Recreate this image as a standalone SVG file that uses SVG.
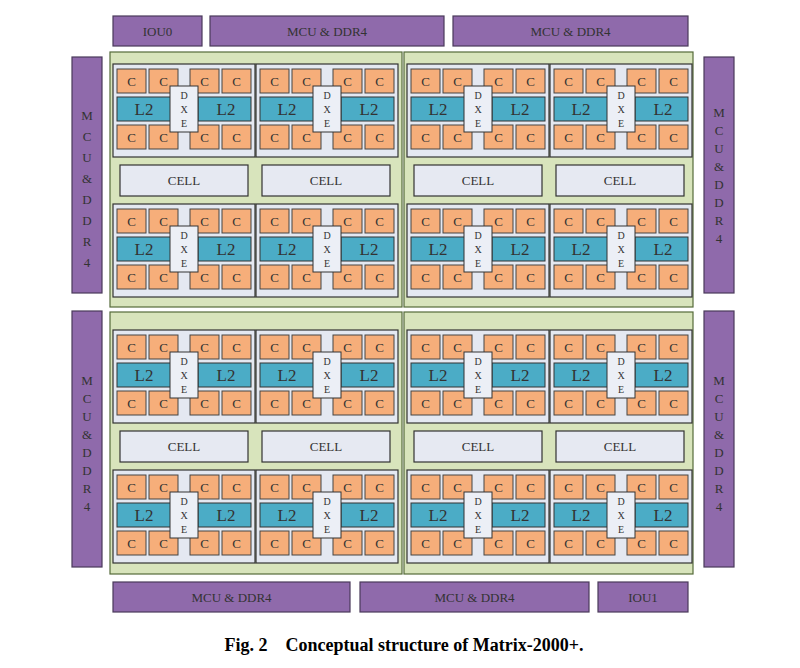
<svg xmlns="http://www.w3.org/2000/svg" xmlns:xlink="http://www.w3.org/1999/xlink" width="800" height="668" viewBox="0 0 800 668">
<style>
text{font-family:"Liberation Serif",serif;text-anchor:middle;dominant-baseline:central;fill:#333}
.io{fill:#8f6aab;stroke:#4a3a5a;stroke-width:1.2}
.q{fill:#d8e4bc;stroke:#556b3a;stroke-width:1.2}
.p{fill:#e4e8f1;stroke:#333;stroke-width:1.2}
.c{fill:#f6ae7a;stroke:#444;stroke-width:1}
.l{fill:#4bacc6;stroke:#333;stroke-width:1}
.d{fill:#eceff6;stroke:#333;stroke-width:1}
.cell{fill:#e6e9f2;stroke:#333;stroke-width:1.2}
.s{font-size:13px}
.t{font-size:17px}
.v{font-size:10px}
</style>
<defs>
<g id="blk">
<rect class="p" x="0" y="0" width="142" height="93"/>
<rect class="c" x="4" y="5" width="29" height="24"/><rect class="c" x="36" y="5" width="29" height="24"/>
<rect class="c" x="77" y="5" width="29" height="24"/><rect class="c" x="109" y="5" width="29" height="24"/>
<rect class="c" x="4" y="61" width="29" height="24"/><rect class="c" x="36" y="61" width="29" height="24"/>
<rect class="c" x="77" y="61" width="29" height="24"/><rect class="c" x="109" y="61" width="29" height="24"/>
<rect class="l" x="4" y="33" width="63" height="24"/><rect class="l" x="85" y="33" width="53" height="24"/>
<rect class="d" x="57" y="22" width="28" height="46"/>
<text class="s" x="18.5" y="17">C</text><text class="s" x="50.5" y="17">C</text><text class="s" x="91.5" y="17">C</text><text class="s" x="123.5" y="17">C</text>
<text class="s" x="18.5" y="73">C</text><text class="s" x="50.5" y="73">C</text><text class="s" x="91.5" y="73">C</text><text class="s" x="123.5" y="73">C</text>
<text class="t" x="31" y="45">L2</text><text class="t" x="113" y="45">L2</text>
<text class="v" x="71" y="31">D</text><text class="v" x="71" y="45">X</text><text class="v" x="71" y="59">E</text>
</g>
<g id="quad">
<use xlink:href="#blk" x="3" y="12"/><use xlink:href="#blk" x="146" y="12"/>
<use xlink:href="#blk" x="3" y="152"/><use xlink:href="#blk" x="146" y="152"/>
<rect class="cell" x="10" y="113" width="128" height="31"/><text class="s" x="74" y="128.5">CELL</text>
<rect class="cell" x="152" y="113" width="128" height="31"/><text class="s" x="216" y="128.5">CELL</text>
</g>
</defs>
<rect width="800" height="668" fill="#fff"/>
<g id="io">
<rect class="io" x="113" y="16" width="89" height="30"/><text class="s" x="157.5" y="31">IOU0</text>
<rect class="io" x="210" y="16" width="234" height="30"/><text class="s" x="327" y="31">MCU &amp; DDR4</text>
<rect class="io" x="453" y="16" width="235" height="30"/><text class="s" x="570.5" y="31">MCU &amp; DDR4</text>
<rect class="io" x="113" y="582" width="237" height="30"/><text class="s" x="231.5" y="597">MCU &amp; DDR4</text>
<rect class="io" x="360" y="582" width="229" height="30"/><text class="s" x="474.5" y="597">MCU &amp; DDR4</text>
<rect class="io" x="598" y="582" width="90" height="30"/><text class="s" x="643" y="597">IOU1</text>
<rect class="io" x="72" y="57" width="30" height="236"/>
<rect class="io" x="72" y="311" width="30" height="256"/>
<rect class="io" x="704" y="57" width="30" height="236"/>
<rect class="io" x="704" y="311" width="30" height="256"/>
<g class="s">
<text x="87" y="115">M</text><text x="87" y="136">C</text><text x="87" y="157">U</text><text x="87" y="178">&amp;</text><text x="87" y="199">D</text><text x="87" y="220">D</text><text x="87" y="241">R</text><text x="87" y="262">4</text>
<text x="719" y="112">M</text><text x="719" y="130">C</text><text x="719" y="148">U</text><text x="719" y="166">&amp;</text><text x="719" y="184">D</text><text x="719" y="202">D</text><text x="719" y="220">R</text><text x="719" y="238">4</text>
<text x="87" y="380">M</text><text x="87" y="398">C</text><text x="87" y="416">U</text><text x="87" y="434">&amp;</text><text x="87" y="452">D</text><text x="87" y="470">D</text><text x="87" y="488">R</text><text x="87" y="506">4</text>
<text x="719" y="380">M</text><text x="719" y="398">C</text><text x="719" y="416">U</text><text x="719" y="434">&amp;</text><text x="719" y="452">D</text><text x="719" y="470">D</text><text x="719" y="488">R</text><text x="719" y="506">4</text>
</g>
</g>
<g id="q1"><rect class="q" x="110" y="52" width="292" height="255"/><use xlink:href="#quad" x="110" y="52"/></g>
<g id="q2"><rect class="q" x="404" y="52" width="289" height="255"/><use xlink:href="#quad" x="404" y="52"/></g>
<g id="q3"><rect class="q" x="110" y="312" width="292" height="262"/><use xlink:href="#quad" x="110" y="318"/></g>
<g id="q4"><rect class="q" x="404" y="312" width="289" height="262"/><use xlink:href="#quad" x="404" y="318"/></g>
<g id="connectors"/>
<text x="404" y="645" xml:space="preserve" style="font-size:18px;font-weight:bold;fill:#000">Fig. 2    Conceptual structure of Matrix-2000+.</text>
</svg>
